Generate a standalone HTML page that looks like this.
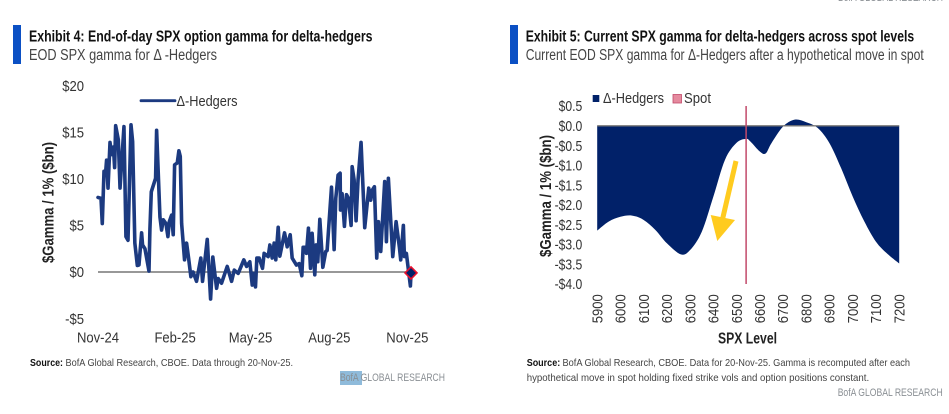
<!DOCTYPE html>
<html lang="en">
<head>
<meta charset="utf-8">
<title>SPX gamma for delta-hedgers</title>
<style>
html,body{margin:0;padding:0;background:#fff;}
svg{display:block;font-family:"Liberation Sans",sans-serif;}
.title{font-size:15.5px;font-weight:bold;fill:#111;}
.sub{font-size:15.5px;fill:#444;}
.tick{font-size:15px;fill:#333;}
.src{font-size:10.5px;fill:#444;}
.srcb{font-size:10.5px;font-weight:bold;fill:#111;}
.brand{font-size:11px;fill:#8a8f94;}
.axt{font-size:15.5px;font-weight:bold;fill:#222;}
</style>
</head>
<body>
<svg id="root" width="949" height="414" viewBox="0 0 949 414" xmlns="http://www.w3.org/2000/svg">
  <rect width="949" height="414" fill="#fff"/>
  <text x="838" y="1" class="brand" textLength="105" lengthAdjust="spacingAndGlyphs">BofA GLOBAL RESEARCH</text>

  <g id="left">
    <rect x="13" y="25" width="8" height="39" fill="#0b50c4"/>
    <text x="29" y="41.5" class="title" textLength="343.5" lengthAdjust="spacingAndGlyphs">Exhibit 4: End-of-day SPX option gamma for delta-hedgers</text>
    <text x="29" y="60" class="sub" textLength="188" lengthAdjust="spacingAndGlyphs">EOD SPX gamma for  Δ -Hedgers</text>
    <text transform="translate(53.5,263) rotate(-90)" class="axt" textLength="121" lengthAdjust="spacingAndGlyphs">$Gamma / 1% ($bn)</text>
    <line x1="141" x2="175" y1="100.7" y2="100.7" stroke="#1c3a80" stroke-width="2.8" stroke-linecap="round"/>
    <text x="176.5" y="106" class="tick" textLength="61" lengthAdjust="spacingAndGlyphs">Δ-Hedgers</text>
    <g id="left-plot"></g>
    <text x="30" y="366" class="srcb" textLength="33" lengthAdjust="spacingAndGlyphs">Source:</text>
    <text x="65.5" y="366" class="src" textLength="227.5" lengthAdjust="spacingAndGlyphs">BofA Global Research, CBOE. Data through 20-Nov-25.</text>
    <rect x="340" y="371" width="22" height="14" fill="#8fbbdb"/>
    <text x="340" y="381" class="brand" textLength="105" lengthAdjust="spacingAndGlyphs">BofA GLOBAL RESEARCH</text>
  </g>

  <g id="right">
    <rect x="510" y="25" width="8" height="39" fill="#0b50c4"/>
    <text x="525.7" y="41.5" class="title" textLength="388.5" lengthAdjust="spacingAndGlyphs">Exhibit 5: Current SPX gamma for delta-hedgers across spot levels</text>
    <text x="525.7" y="60" class="sub" textLength="398" lengthAdjust="spacingAndGlyphs">Current EOD SPX gamma for Δ-Hedgers after a hypothetical move in spot</text>
    <text transform="translate(551,257) rotate(-90)" class="axt" textLength="122" lengthAdjust="spacingAndGlyphs">$Gamma / 1% ($bn)</text>
    <rect x="592.7" y="95" width="6.6" height="7" fill="#012169"/>
    <text x="603" y="103" class="tick" textLength="61" lengthAdjust="spacingAndGlyphs">Δ-Hedgers</text>
    <rect x="673" y="94.5" width="8.5" height="8.5" fill="#e58a9e" stroke="#c2496a" stroke-width="0.8"/>
    <text x="684" y="103" class="tick" textLength="27" lengthAdjust="spacingAndGlyphs">Spot</text>
    <g id="right-plot"></g>
    <g>
      <line x1="736" y1="161" x2="722.8" y2="218" stroke="#ffcb1f" stroke-width="5"/>
      <polygon points="710.7,215 735,220 717.3,241" fill="#ffcb1f"/>
    </g>
    <text x="718" y="343.5" class="axt" textLength="59" lengthAdjust="spacingAndGlyphs">SPX Level</text>
    <text x="526.7" y="366" class="srcb" textLength="33.5" lengthAdjust="spacingAndGlyphs">Source:</text>
    <text x="562.5" y="366" class="src" textLength="347.5" lengthAdjust="spacingAndGlyphs">BofA Global Research, CBOE. Data for 20-Nov-25. Gamma is recomputed after each</text>
    <text x="526.7" y="381" class="src" textLength="342.5" lengthAdjust="spacingAndGlyphs">hypothetical move in spot holding fixed strike vols and option positions constant.</text>
    <text x="837.7" y="396" class="brand" textLength="105" lengthAdjust="spacingAndGlyphs">BofA GLOBAL RESEARCH</text>
  </g>
</svg>
<script>
// ---- Exhibit 4 data ----
const gammaDays = [0,3.5,5,7,9,10,11.7,14,16,18,19.4,20.6,23.7,25.7,30.3,32.6,35,38.5,40.4,43,45.9,47.8,50.9,52,54.8,59.5,60.6,62.2,67.2,68.4,72.3,74.2,76.2,79.3,81.6,83.2,85.9,87.8,89.4,92.5,94.4,96,97.6,101,103.4,105.7,108.4,111,115,120,122,127.5,131.4,134,138.4,140.3,144.2,150.8,155.9,159,163.6,170.2,173.4,177.2,180,181,183.8,185.4,188.1,192,193.9,198.6,200.6,203.3,205.6,207.5,210.3,212.2,217.7,220.8,224.3,226.6,231.6,234.8,237.9,239.4,241.8,243.3,245.6,248,249.9,253,254.6,256.5,258.9,262.4,265.8,267.4,272.5,275.6,277.5,280.2,282.6,283,284.9,287.6,290,292.3,295.4,296.6,298.9,301.2,303.5,307,311.3,316,318.3,320.3,322.6,325.3,327.3,330,334.6,336.6,338.9,344,347.9,351.7,353.3,356.4,357.6,359.9,364.6,365.3];
const gammaValues = [8,7.9,5.2,10.8,10.8,12,9,13.9,12.6,13.4,11.2,15.7,14.2,9,15.6,3.8,3.4,15.8,14,3.1,0.7,0.75,4.2,2.9,2.5,0.1,4.6,8.6,10.05,15.2,5.9,4.5,5.6,5.2,3.8,5.4,6.1,4,11.5,11.7,13,12.4,5.2,1.3,3.1,1.5,-0.5,0,-1,1.5,-1,3.5,-2.9,1.6,-1.75,-0.7,-1.2,0.6,-1,0.2,-0.15,1.3,0.6,1.1,-1.4,-0.15,-1.6,1.5,1.5,0.4,2,1.65,2.9,1.5,3.1,1.3,4.8,1.7,4.2,2.7,4,1.5,0.75,0.9,-0.4,2.65,2.65,2,4.7,0.4,4.15,-0.3,2.9,1.1,5.65,0.5,2.2,2.3,9.1,2.4,7.9,10.4,10.6,6.65,8.4,4.9,8.3,7.9,5,11.3,9.9,5.5,9.9,13.9,4.75,9,7.7,8.8,9.15,1.5,5.4,2.2,9.7,3.25,10.05,1.65,5.4,2.7,1.3,5,1.65,2,-1.5,-0.1];
const gammaTicks = [20,15,10,5,0,-5];
const gammaTickLabels = ['$20','$15','$10','$5','$0','-$5'];
const gammaDateDays = [0,90,178,270,361];
const gammaDateLabels = ['Nov-24','Feb-25','May-25','Aug-25','Nov-25'];

// ---- Exhibit 5 data ----
const spxLevels = [5900,5950,6000,6050,6100,6150,6200,6260,6300,6350,6400,6450,6500,6541,6560,6600,6625,6650,6700,6750,6800,6850,6900,6950,7000,7050,7100,7150,7200];
const spxGamma = [-2.65,-2.42,-2.3,-2.27,-2.38,-2.63,-2.97,-3.25,-3.14,-2.68,-1.79,-0.86,-0.43,-0.33,-0.4,-0.65,-0.7,-0.44,-0.02,0.155,0.09,-0.06,-0.44,-1.07,-1.79,-2.42,-2.93,-3.24,-3.48];
const spotLevel = 6541;
const spxTicks = [0.5,0,-0.5,-1,-1.5,-2,-2.5,-3,-3.5,-4];
const spxTickLabels = ['$0.5','$0.0','-$0.5','-$1.0','-$1.5','-$2.0','-$2.5','-$3.0','-$3.5','-$4.0'];
const spxCategoryLabels = ['5900','6000','6100','6200','6300','6400','6500','6600','6700','6800','6900','7000','7100','7200'];

const NS = 'http://www.w3.org/2000/svg';
function mk(parent, tag, attrs, text) {
  const el = document.createElementNS(NS, tag);
  for (const k in attrs) el.setAttribute(k, attrs[k]);
  if (text !== undefined) el.textContent = text;
  parent.appendChild(el);
  return el;
}
// Narrow a label horizontally so the taller type keeps the reference's width
function squeeze(el, factor) {
  el.setAttribute('textLength', (el.getComputedTextLength() * factor).toFixed(2));
  el.setAttribute('lengthAdjust', 'spacingAndGlyphs');
}

// Axis functions, exhibit 4
const lx = d => 98 + d / 365.3 * 313;
const ly = v => 272 - v * 9.32;
// Axis functions, exhibit 5
const rx = l => 597.2 + (l - 5900) / 1300 * 302;
const ry = v => 125.8 - v * 39.56;

const lp = document.getElementById('left-plot');
gammaTicks.forEach((t, i) => {
  const el = mk(lp, 'text', {x: 84, y: ly(t) + 5.2, 'text-anchor': 'end', class: 'tick'}, gammaTickLabels[i]);
  
  
  squeeze(el, 0.87);
});
gammaDateLabels.forEach((t, i) => {
  const el = mk(lp, 'text', {x: lx(gammaDateDays[i]), y: 342.7, 'text-anchor': 'middle', class: 'tick'}, t);
  
  
  squeeze(el, 0.87);
});
const zeroL = mk(lp, 'line', {x1: lx(0), x2: lx(gammaDays[gammaDays.length - 1]), y1: ly(0), y2: ly(0), stroke: '#777', 'stroke-width': 1.4});


const linePts = gammaValues.map((v, i) => lx(gammaDays[i]).toFixed(2) + ',' + ly(v).toFixed(2)).join(' ');
const gl = mk(lp, 'polyline', {points: linePts, fill: 'none', stroke: '#1c3a80', 'stroke-width': 3.6, 'stroke-linejoin': 'round', 'stroke-linecap': 'round'});


const mxv = lx(gammaDays[gammaDays.length - 1]), myv = ly(gammaValues[gammaValues.length - 1]);
const mark = mk(lp, 'polygon', {points: [[mxv - 6, myv], [mxv, myv - 6], [mxv + 6, myv], [mxv, myv + 6]].map(p => p.join(',')).join(' '), fill: '#012169', stroke: '#e8112d', 'stroke-width': 1.6});



const rp = document.getElementById('right-plot');
spxTicks.forEach((t, i) => {
  const el = mk(rp, 'text', {x: 582.3, y: ry(t) + 5.2, 'text-anchor': 'end', class: 'tick'}, spxTickLabels[i]);
  
  
  squeeze(el, 0.81);
});
spxCategoryLabels.forEach(t => {
  const cx = rx(+t);
  const el = mk(rp, 'text', {transform: 'translate(' + (cx + 5.2) + ',323.3) rotate(-90)', class: 'tick', textLength: 29, lengthAdjust: 'spacingAndGlyphs'}, t);
  
  
});
// Smooth area through the data points
const P = spxLevels.map((l, i) => [rx(l), ry(spxGamma[i])]);
let areaD = 'M' + P[0][0] + ',' + ry(0) + ' L' + P[0][0] + ',' + P[0][1];
for (let i = 0; i < P.length - 1; i++) {
  const p0 = P[Math.max(i - 1, 0)], p1 = P[i], p2 = P[i + 1], p3 = P[Math.min(i + 2, P.length - 1)];
  const c1 = [p1[0] + (p2[0] - p0[0]) / 6, p1[1] + (p2[1] - p0[1]) / 6];
  const c2 = [p2[0] - (p3[0] - p1[0]) / 6, p2[1] - (p3[1] - p1[1]) / 6];
  areaD += ' C' + c1.join(',') + ' ' + c2.join(',') + ' ' + p2.join(',');
}
areaD += ' L' + P[P.length - 1][0] + ',' + ry(0) + ' Z';
const area = mk(rp, 'path', {d: areaD, fill: '#012169'});


const zeroR = mk(rp, 'line', {x1: rx(5900), x2: rx(7200), y1: ry(0), y2: ry(0), stroke: '#777', 'stroke-width': 1.3});


const spot = mk(rp, 'line', {x1: rx(spotLevel), x2: rx(spotLevel), y1: ry(0.5), y2: ry(-4), stroke: '#c2496a', 'stroke-width': 1.5});


</script>
</body>
</html>
